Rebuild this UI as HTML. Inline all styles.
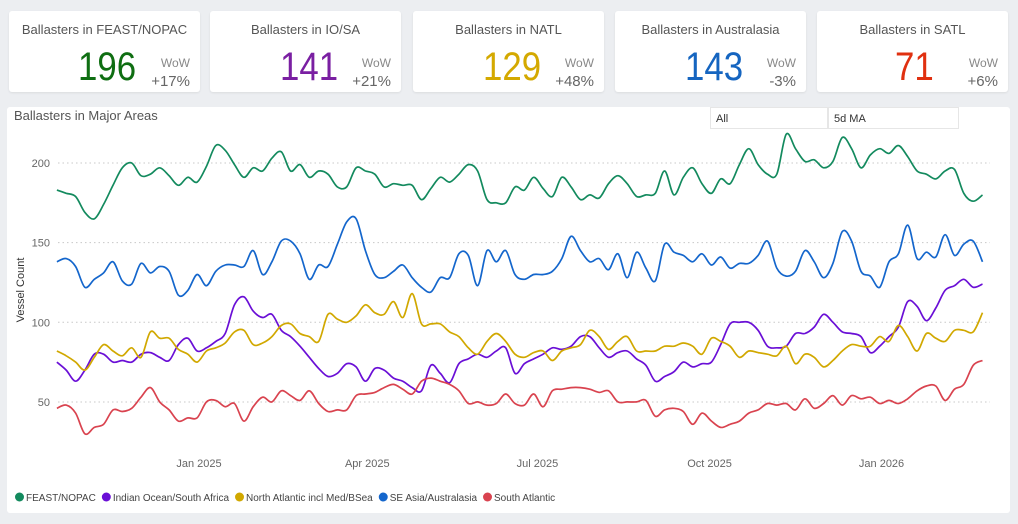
<!DOCTYPE html>
<html><head><meta charset="utf-8">
<style>
body{margin:0;width:1018px;height:524px;background:#eceef1;font-family:"Liberation Sans",sans-serif;position:relative;overflow:hidden}
.card{position:absolute;top:11px;width:191px;height:81px;background:#fff;border-radius:3px;box-shadow:0 1px 2px rgba(0,0,0,.08)}
.card .t{position:absolute;top:11px;left:0;right:0;text-align:center;font-size:13px;color:#555}
.card .n{position:absolute;top:33px;font-size:40px;line-height:46px;transform:scaleX(0.87);transform-origin:left center}
.card .w{position:absolute;right:10px;top:45px;text-align:right;font-size:12px;color:#888}
.card .p{position:absolute;right:10px;top:62px;font-size:15px;color:#666}
#panel{position:absolute;left:7px;top:107px;width:1003px;height:406px;background:#fff;border-radius:3px}
.dd{position:absolute;top:107px;height:22px;background:#fff;border:1px solid #e6e6e6;font-size:11px;color:#333;line-height:22px;padding-left:5px;box-sizing:border-box}
</style></head><body>
<div class="card" style="left:9px"><div class="t">Ballasters in FEAST/NOPAC</div><div class="n" style="left:69px;color:#0f6e12">196</div><div class="w">WoW</div><div class="p">+17%</div></div>
<div class="card" style="left:210px"><div class="t">Ballasters in IO/SA</div><div class="n" style="left:70px;color:#7a1fa2">141</div><div class="w">WoW</div><div class="p">+21%</div></div>
<div class="card" style="left:413px"><div class="t">Ballasters in NATL</div><div class="n" style="left:70px;color:#d4a900">129</div><div class="w">WoW</div><div class="p">+48%</div></div>
<div class="card" style="left:615px"><div class="t">Ballasters in Australasia</div><div class="n" style="left:70px;color:#1565c0">143</div><div class="w">WoW</div><div class="p">-3%</div></div>
<div class="card" style="left:817px"><div class="t">Ballasters in SATL</div><div class="n" style="left:78px;color:#e03010">71</div><div class="w">WoW</div><div class="p">+6%</div></div>
<div id="panel"></div>
<div class="dd" style="left:710px;width:118px">All</div>
<div class="dd" style="left:828px;width:131px">5d MA</div>
<svg id="chart" width="1018" height="524" style="position:absolute;left:0;top:0"></svg>
<script>
const startDate=new Date(2024,9,17);
const stepDays=5;
const yTicks=[50,100,150,200];
const xTickLabels=["Jan 2025","Apr 2025","Jul 2025","Oct 2025","Jan 2026"];
const xTickDates=[new Date(2025,0,1),new Date(2025,3,1),new Date(2025,6,1),new Date(2025,9,1),new Date(2026,0,1)];
const seriesNames=["FEAST/NOPAC","Indian Ocean/South Africa","North Atlantic incl Med/BSea","SE Asia/Australasia","South Atlantic"];
const feast=[183,181,179,169,165,174,186,197,200,192,193,197,192,186,191,188,198,211,208,199,191,197,195,203,207,195,199,191,195,193,185,185,197,195,193,185,187,186,186,177,184,191,188,193,199,195,177,175,175,185,183,191,184,179,191,185,177,180,178,187,192,187,179,180,181,195,180,191,197,187,181,190,187,199,209,199,193,193,218,209,201,202,197,201,216,209,197,205,209,206,211,204,195,193,190,195,196,181,176,180];
const iosa=[75,70,63,70,80,80,75,76,75,80,81,78,76,86,90,82,84,88,93,111,116,107,103,105,95,91,85,78,71,66,68,74,72,63,71,70,65,63,59,57,73,68,62,74,77,80,78,82,84,68,74,77,80,84,83,85,91,91,84,78,81,82,77,73,63,66,69,75,72,74,75,86,99,100,100,95,85,84,85,93,93,97,105,100,94,93,91,81,85,91,97,113,110,101,109,120,123,127,122,124];
const natl=[82,79,75,70,78,86,82,79,84,78,94,90,90,83,80,75,82,84,87,94,95,86,87,91,98,99,93,91,88,105,102,100,104,111,106,105,113,103,118,99,99,99,94,91,84,80,88,93,88,80,78,81,82,76,82,84,86,95,91,83,88,91,82,82,82,85,85,87,85,80,90,88,85,78,82,81,80,79,85,74,80,78,72,76,82,86,85,85,91,88,98,91,82,93,90,88,95,95,94,106];
const seasia=[138,140,135,122,127,131,138,126,124,137,131,135,132,117,120,130,123,132,136,136,135,145,130,138,151,151,143,127,136,135,149,163,165,145,130,128,132,136,128,122,119,128,128,143,142,123,145,138,145,130,127,130,130,132,140,154,145,138,140,133,143,128,144,134,126,149,144,142,138,143,136,141,134,137,137,142,151,134,129,132,145,138,128,137,157,151,132,129,122,138,143,161,140,144,141,155,142,149,151,138];
const satl=[46,48,43,30,34,36,45,44,46,53,59,50,45,38,40,40,50,51,47,49,38,47,53,50,57,54,51,57,49,44,45,45,54,55,56,59,61,58,55,63,65,63,61,57,49,50,48,49,55,49,48,55,47,57,58,59,59,58,56,57,50,50,50,51,41,45,46,44,36,43,38,34,36,38,43,45,49,48,49,45,52,46,49,54,48,54,52,53,49,51,49,52,57,60,60,51,58,61,73,76];
const colors=["#138a5e","#6a0fd6","#d1a800","#1466cc","#d9434f"];
const allSeries=[feast,iosa,natl,seasia,satl];
const svg=document.getElementById('chart');
const NS='http://www.w3.org/2000/svg';
const dayMs=86400000;
const refDate=new Date(2025,0,1);
function xOfDate(d){return 199+(d-refDate)/dayMs*1.87;}
function xOfIndex(i){return xOfDate(new Date(startDate.getTime()+i*stepDays*dayMs));}
function yOf(v){return 163+(200-v)*1.593;}
function mk(tag,attrs,parent){const e=document.createElementNS(NS,tag);for(const k in attrs)e.setAttribute(k,attrs[k]);(parent||svg).appendChild(e);return e;}
function smoothPath(pts){
  let d='M'+pts[0][0].toFixed(1)+','+pts[0][1].toFixed(1);
  for(let i=0;i<pts.length-1;i++){
    const p0=pts[i-1]||pts[i],p1=pts[i],p2=pts[i+1],p3=pts[i+2]||p2;
    const c1x=p1[0]+(p2[0]-p0[0])/6,c1y=p1[1]+(p2[1]-p0[1])/6;
    const c2x=p2[0]-(p3[0]-p1[0])/6,c2y=p2[1]-(p3[1]-p1[1])/6;
    d+='C'+c1x.toFixed(1)+','+c1y.toFixed(1)+' '+c2x.toFixed(1)+','+c2y.toFixed(1)+' '+p2[0].toFixed(1)+','+p2[1].toFixed(1);
  }
  return d;
}
const title=mk('text',{x:14,y:120,'font-size':13,fill:'#555'});


title.textContent='Ballasters in Major Areas';
yTicks.forEach(t=>{
  const g=mk('line',{x1:58,x2:990,y1:yOf(t),y2:yOf(t),stroke:'#c8c8c8','stroke-dasharray':'1.5 3'});
  
  
  const l=mk('text',{x:50,y:yOf(t)+4,'text-anchor':'end','font-size':11,fill:'#666'});
  
  
  l.textContent=t;
});
const yt=mk('text',{x:0,y:0,'font-size':11,fill:'#333','text-anchor':'middle',transform:'translate(24,290) rotate(-90)'});


yt.textContent='Vessel Count';
xTickLabels.forEach((lab,i)=>{
  const t=mk('text',{x:xOfDate(xTickDates[i]),y:467,'text-anchor':'middle','font-size':11,fill:'#666'});
  
  
  t.textContent=lab;
});
allSeries.forEach((s,k)=>{
  const pts=s.map((v,i)=>[xOfIndex(i),yOf(v)]);
  const p=mk('path',{d:smoothPath(pts),fill:'none',stroke:colors[k],'stroke-width':1.7,'stroke-linejoin':'round'});
  
  
});
let lx=15;
seriesNames.forEach((n,k)=>{
  const c=mk('circle',{cx:lx+4.5,cy:497,r:4.5,fill:colors[k]});
  
  
  const t=mk('text',{x:lx+11,y:501,'font-size':10,fill:'#444'});
  
  
  t.textContent=n;
  lx+=11+t.getComputedTextLength()+6;
});
</script>
</body></html>
